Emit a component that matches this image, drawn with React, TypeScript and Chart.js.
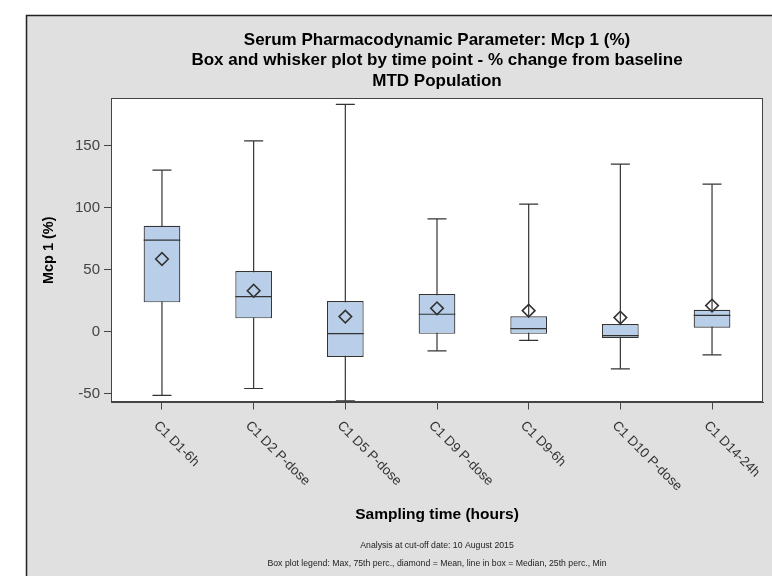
import React, { useEffect, useRef } from "react";
import { Chart, registerables } from "chart.js";

Chart.register(...registerables);

const categories = [
  "C1 D1-6h",
  "C1 D2 P-dose",
  "C1 D5 P-dose",
  "C1 D9 P-dose",
  "C1 D9-6h",
  "C1 D10 P-dose",
  "C1 D14-24h",
];
const maxValues = [130.2, 153.8, 183.3, 90.9, 102.8, 135, 118.9];
const q3Values = [85.3, 48.8, 24.6, 30.3, 12.2, 6.1, 17.6];
const medianValues = [73.8, 28.1, -1.7, 13.9, 2.3, -3.3, 13];
const meanValues = [58.5, 32.9, 12, 18.7, 16.8, 11.2, 20.9];
const q1Values = [23.5, 10.6, -20.5, -1.9, -1.9, -5.2, 3.1];
const minValues = [-51.6, -46, -55.9, -15.6, -7.1, -30.1, -18.8];
const yTickValues = [-50, 0, 50, 100, 150];

const titleLines = [
  "Serum Pharmacodynamic Parameter: Mcp 1 (%)",
  "Box and whisker plot by time point - % change from baseline",
  "MTD Population",
];
const xAxisTitle = "Sampling time (hours)";
const yAxisTitle = "Mcp 1 (%)";
const footnotes = [
  "Analysis at cut-off date: 10 August 2015",
  "Box plot legend: Max, 75th perc., diamond = Mean, line in box = Median, 25th perc., Min",
];

const FONT = "'Liberation Sans', Arial, Helvetica, sans-serif";
const DARK = "#333333";

const decorPlugin = {
  id: "decor",
  beforeDraw(chart: any) {
    const { ctx, chartArea: a } = chart;
    ctx.save();
    ctx.fillStyle = "#ffffff";
    ctx.fillRect(0, 0, chart.width, chart.height);
    ctx.fillStyle = "#e0e0e0";
    ctx.fillRect(26, 15, chart.width - 26, chart.height - 15);
    ctx.strokeStyle = "#222";
    ctx.lineWidth = 1.5;
    ctx.beginPath();
    ctx.moveTo(26.5, chart.height);
    ctx.lineTo(26.5, 15.5);
    ctx.lineTo(chart.width, 15.5);
    ctx.stroke();
    ctx.fillStyle = "#ffffff";
    ctx.fillRect(a.left, a.top, a.right - a.left, a.bottom - a.top);
    ctx.restore();
  },
  afterDraw(chart: any) {
    const { ctx, chartArea: a } = chart;
    ctx.save();
    ctx.strokeStyle = "#444";
    ctx.lineWidth = 1;
    ctx.strokeRect(
      Math.round(a.left) + 0.5,
      Math.round(a.top) + 0.5,
      Math.round(a.right - a.left) - 1,
      Math.round(a.bottom - a.top) - 1
    );
    const xs = chart.scales.x;
    ctx.font = `13.5px ${FONT}`;
    ctx.fillStyle = "#333";
    ctx.textAlign = "left";
    ctx.textBaseline = "middle";
    categories.forEach((label, i) => {
      const px = xs.getPixelForValue(i);
      ctx.save();
      ctx.translate(px - 6, xs.top + 21);
      ctx.rotate(Math.PI / 4);
      ctx.fillText(label, 0, 0);
      ctx.restore();
    });
    ctx.restore();
  },
};

export default function App() {
  const canvasRef = useRef<HTMLCanvasElement | null>(null);

  useEffect(() => {
    const canvas = canvasRef.current;
    if (!canvas) return;

    const whiskerData = categories.flatMap((_, i) => [
      { x: i, y: minValues[i] },
      { x: i, y: maxValues[i] },
      { x: i, y: null },
    ]);

    const chart = new Chart(canvas, {
      type: "bar",
      data: {
        datasets: [
          {
            type: "scatter",
            label: "whisker",
            data: whiskerData as any,
            showLine: true,
            borderColor: DARK,
            borderWidth: 1.2,
            pointStyle: "line",
            pointRadius: 9.5,
            pointBorderColor: DARK,
            pointBorderWidth: 1.2,
            pointHoverRadius: 9.5,
            order: 3,
          } as any,
          {
            type: "bar",
            label: "box",
            data: categories.map((_, i) => ({ x: i, y: [q1Values[i], q3Values[i]] })) as any,
            backgroundColor: "#b9cfe9",
            borderColor: DARK,
            borderWidth: 1.2,
            borderSkipped: false,
            barPercentage: 0.4,
            categoryPercentage: 1,
            order: 2,
          } as any,
          {
            type: "scatter",
            label: "median",
            data: categories.map((_, i) => ({ x: i, y: medianValues[i] })),
            pointStyle: "line",
            pointRadius: 18.3,
            pointHoverRadius: 18.3,
            pointBorderColor: DARK,
            pointBorderWidth: 1.2,
            order: 1,
          } as any,
          {
            type: "scatter",
            label: "mean",
            data: categories.map((_, i) => ({ x: i, y: meanValues[i] })),
            pointStyle: "rectRot",
            pointRadius: 6.3,
            pointHoverRadius: 6.3,
            pointBackgroundColor: "rgba(0,0,0,0)",
            pointBorderColor: DARK,
            pointBorderWidth: 1.6,
            order: 0,
          } as any,
        ],
      },
      options: {
        responsive: false,
        devicePixelRatio: 1,
        animation: false,
        events: [],
        layout: { autoPadding: false, padding: { top: 15, left: 26, right: 9, bottom: 3 } },
        plugins: {
          legend: { display: false },
          tooltip: { enabled: false },
          title: {
            display: true,
            fullSize: false,
            text: titleLines,
            color: "#000",
            font: { family: FONT, size: 17, weight: "bold", lineHeight: 1.206 },
            padding: { top: 14.75, bottom: 6.75 },
          },
          subtitle: {
            display: true,
            position: "bottom",
            fullSize: false,
            text: footnotes,
            color: "#222",
            font: { family: FONT, size: 8.7, weight: "normal", lineHeight: 18 / 8.7 },
            padding: { top: 8.7, bottom: 0 },
          },
        },
        scales: {
          x: {
            type: "linear",
            min: -0.556,
            max: 6.556,
            offset: false,
            afterBuildTicks: (axis: any) => {
              axis.ticks = categories.map((_, i) => ({ value: i }));
            },
            afterFit: (axis: any) => {
              axis.height = 125.8;
            },
            ticks: { display: false },
            grid: {
              offset: false,
              drawOnChartArea: false,
              drawTicks: true,
              tickLength: 7,
              color: "#444",
              lineWidth: 1,
            },
            border: { display: true, color: "#444", width: 1 },
            title: {
              display: true,
              text: xAxisTitle,
              color: "#000",
              font: { family: FONT, size: 15.5, weight: "bold", lineHeight: 1.2 },
              padding: { top: 0, bottom: 4 },
            },
          },
          y: {
            type: "linear",
            min: -57.3,
            max: 188.4,
            afterBuildTicks: (axis: any) => {
              axis.ticks = yTickValues.map((v) => ({ value: v }));
            },
            afterFit: (axis: any) => {
              axis.width = 85;
            },
            ticks: {
              color: "#444",
              padding: 4,
              font: { family: FONT, size: 15 },
            },
            grid: {
              drawOnChartArea: false,
              drawTicks: true,
              tickLength: 7,
              color: "#444",
              lineWidth: 1,
            },
            border: { display: true, color: "#444", width: 1 },
            title: {
              display: true,
              text: yAxisTitle,
              color: "#000",
              font: { family: FONT, size: 14.5, weight: "bold", lineHeight: 1.2 },
              padding: { top: 13.8, bottom: 0 },
            },
          },
        },
      } as any,
      plugins: [decorPlugin],
    });

    return () => {
      chart.destroy();
    };
  }, []);

  return (
    <div style={{ position: "fixed", left: 0, top: 0, width: 772, height: 576 }}>
      <canvas ref={canvasRef} width={772} height={576} style={{ display: "block" }} />
    </div>
  );
}
